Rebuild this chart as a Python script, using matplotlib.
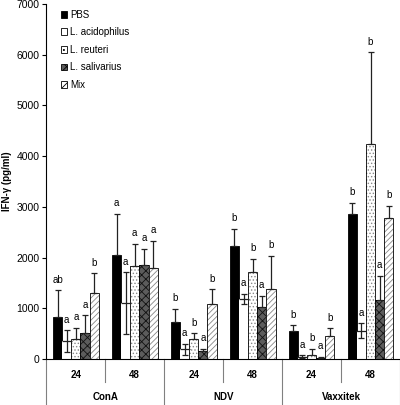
import numpy as np
import matplotlib.pyplot as plt
import matplotlib.transforms as mtransforms
from matplotlib.patches import Patch

plt.rcParams['font.family'] = ['Liberation Sans', 'DejaVu Sans']
plt.rcParams['hatch.linewidth'] = 0.6

stimuli = ['ConA', 'NDV', 'Vaxxitek']
hours = ['24', '48']
groups = ['PBS', 'L. acidophilus', 'L. reuteri', 'L. salivarius', 'Mix']

# order: ConA 24, ConA 48, NDV 24, NDV 48, Vaxxitek 24, Vaxxitek 48
pbs = [822, 2051, 724, 2229, 552, 2854]
pbs_err = [533, 809, 268, 341, 113, 229]
acid = [349, 1098, 191, 1183, 45, 558]
acid_err = [220, 615, 105, 100, 30, 146]
reut = [389, 1834, 389, 1716, 79, 4247]
reut_err = [228, 440, 118, 262, 118, 1802]
sali = [507, 1848, 164, 1020, 26, 1164]
sali_err = [355, 328, 40, 229, 19, 479]
mix = [1296, 1789, 1085, 1375, 460, 2775]
mix_err = [394, 544, 290, 657, 145, 243]

pbs_lt = ['ab', 'a', 'b', 'b', 'b', 'b']
acid_lt = ['a', 'a', 'a', 'a', 'a', 'a']
reut_lt = ['a', 'a', 'b', 'b', 'b', 'b']
sali_lt = ['a', 'a', 'a', 'a', 'a', 'a']
mix_lt = ['b', 'a', 'b', 'b', 'b', 'b']

fig = plt.figure(figsize=(4, 4.05), dpi=100)
ax = fig.add_axes([0.116, 0.1136, 0.884, 0.8765])

x = np.arange(6)
w = 0.155
fs = 7
ekw = dict(ecolor='#222222', elinewidth=0.9, capsize=2.2, capthick=0.9, fmt='none', zorder=3)


def letters(xs, tops, labs):
    for xi, t, lab in zip(xs, tops, labs):
        ax.annotate(lab, (xi, t), xytext=(0, 4), textcoords='offset points',
                    ha='center', va='bottom', fontsize=fs)


# PBS
xp = x - 2 * w
ax.bar(xp, pbs, w, color='black', edgecolor='black', linewidth=0.6)
ax.errorbar(xp, pbs, yerr=[np.zeros(6), pbs_err], **ekw)
letters(xp, np.add(pbs, pbs_err), pbs_lt)

# L. acidophilus (white bar, no outline, mean line + two-sided error)
xa = x - w
ax.bar(xa, acid, w, color='white', edgecolor='none')
ax.errorbar(xa, acid, yerr=acid_err, ecolor='#222222', elinewidth=0.9, capsize=2.2,
            capthick=0.9, fmt='_', color='#222222', markersize=6.5, mew=0.9, zorder=3)
letters(xa, np.add(acid, acid_err), acid_lt)

# L. reuteri
xr = x
ax.bar(xr, reut, w, color='white', edgecolor='#888888', hatch='.....', linewidth=0)
ax.bar(xr, reut, w, fill=False, edgecolor='black', linewidth=0.6)
ax.errorbar(xr, reut, yerr=[np.zeros(6), reut_err], **ekw)
letters(xr, np.add(reut, reut_err), reut_lt)

# L. salivarius
xs = x + w
ax.bar(xs, sali, w, color='#5c5c5c', edgecolor='#111111', hatch='xxxx', linewidth=0)
ax.bar(xs, sali, w, fill=False, edgecolor='black', linewidth=0.6)
ax.errorbar(xs, sali, yerr=[np.zeros(6), sali_err], **ekw)
letters(xs, np.add(sali, sali_err), sali_lt)

# Mix
xm = x + 2 * w
ax.bar(xm, mix, w, color='white', edgecolor='#888888', hatch='//////', linewidth=0)
ax.bar(xm, mix, w, fill=False, edgecolor='black', linewidth=0.6)
ax.errorbar(xm, mix, yerr=[np.zeros(6), mix_err], **ekw)
letters(xm, np.add(mix, mix_err), mix_lt)

ax.set_xlim(-0.5, 5.5)
ax.set_ylim(0, 7000)
ax.set_yticks(np.arange(0, 7001, 1000))
ax.tick_params(axis='y', labelsize=7.5, direction='out', length=3, width=0.8, pad=2)
ax.set_xticks([])
for s in ['top', 'right']:
    ax.spines[s].set_visible(False)
ax.spines['left'].set_linewidth(0.8)
ax.spines['bottom'].set_linewidth(0.8)
ax.set_ylabel('IFN-γ (pg/ml)', fontsize=fs, fontweight='bold')
ax.yaxis.set_label_coords(-0.096, 0.5)

# category table below the axis
tr = mtransforms.blended_transform_factory(ax.transData, ax.transAxes)
for b in [-0.5, 1.5, 3.5, 5.5]:
    ax.plot([b, b], [0, -0.13], transform=tr, color='#808080', lw=0.8, clip_on=False)
for b in [0.5, 2.5, 4.5]:
    ax.plot([b, b], [0, -0.065], transform=tr, color='#808080', lw=0.8, clip_on=False)
for i in range(6):
    ax.text(x[i], -0.045, hours[i % 2], transform=tr, ha='center', va='center',
            fontsize=fs, fontweight='bold')
for j, name in enumerate(stimuli):
    ax.text(2 * j + 0.5, -0.107, name, transform=tr, ha='center', va='center',
            fontsize=fs, fontweight='bold')

handles = [
    Patch(facecolor='black', edgecolor='black', linewidth=0.6),
    Patch(facecolor='white', edgecolor='black', linewidth=0.6),
    Patch(facecolor='white', edgecolor='black', hatch='...', linewidth=0.6),
    Patch(facecolor='#5c5c5c', edgecolor='black', hatch='xxx', linewidth=0.6),
    Patch(facecolor='white', edgecolor='black', hatch='////', linewidth=0.6),
]
ax.legend(handles, groups, loc='upper left', bbox_to_anchor=(0.04, 0.984),
          frameon=False, fontsize=fs, handlelength=0.7, handleheight=0.7,
          handletextpad=0.25, labelspacing=0.78, borderpad=0, borderaxespad=0)

fig.savefig('out.png', dpi=100)
